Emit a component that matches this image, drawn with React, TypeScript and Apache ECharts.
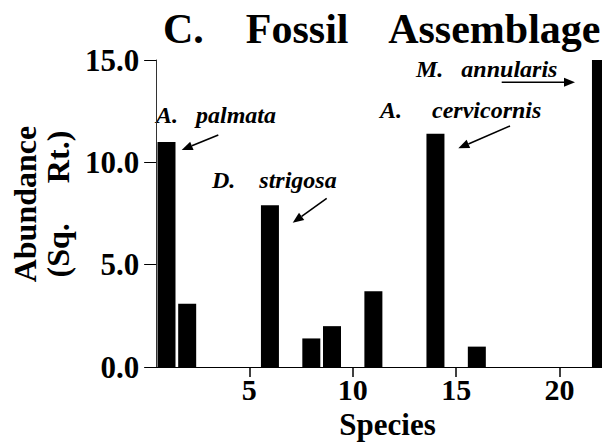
import React, { useEffect, useRef } from "react";
import * as echarts from "echarts";

// ---- data ----
const species = [1, 2, 6, 8, 9, 11, 14, 16, 22];
const abundance = [11.0, 3.1, 7.9, 1.4, 2.0, 3.7, 11.4, 1.0, 15.0];
const xTickValues = [5, 10, 15, 20];
const yTickValues = [0, 5, 10, 15];
const annotationTexts = ["A.   palmata", "D.    strigosa", "A.     cervicornis", "M.   annularis"];

// ---- layout (pixels) ----
const annotationAnchors = [
  [156, 114.7],
  [212, 180.3],
  [380, 109.7],
  [416, 69.3],
];
const arrowSegments = [
  [218.3, 135, 181.7, 150],
  [326.7, 198.3, 292.7, 222.7],
  [510, 126, 458.3, 148.3],
  [501.7, 82.3, 575, 82.3],
];

const SERIF = "Liberation Serif";

function arrowGraphics(seg: number[]) {
  const [x1, y1, x2, y2] = seg;
  const a = Math.atan2(y2 - y1, x2 - x1);
  const L = 11;
  const W = 4.5;
  const bx = x2 - L * Math.cos(a);
  const by = y2 - L * Math.sin(a);
  const px = -Math.sin(a);
  const py = Math.cos(a);
  return [
    {
      type: "line",
      shape: { x1, y1, x2: bx, y2: by },
      style: { stroke: "#000", lineWidth: 1.6 },
      silent: true,
    },
    {
      type: "polygon",
      shape: {
        points: [
          [x2, y2],
          [bx + W * px, by + W * py],
          [bx - W * px, by - W * py],
        ],
      },
      style: { fill: "#000" },
      silent: true,
    },
  ];
}

export default function App() {
  const ref = useRef<HTMLDivElement>(null);

  useEffect(() => {
    if (!ref.current) return;
    const chart = echarts.init(ref.current, null, { renderer: "svg" });

    const graphics: any[] = [];
    annotationTexts.forEach((t, i) => {
      graphics.push({
        type: "text",
        x: annotationAnchors[i][0],
        y: annotationAnchors[i][1],
        style: {
          text: t,
          fill: "#000",
          fontFamily: SERIF,
          fontStyle: "italic",
          fontWeight: "bold",
          fontSize: 24,
          textAlign: "left",
          textVerticalAlign: "middle",
        },
        silent: true,
      });
    });
    arrowSegments.forEach((s) => graphics.push(...arrowGraphics(s)));

    chart.setOption({
      animation: false,
      backgroundColor: "#fff",
      textStyle: { fontFamily: SERIF },
      title: {
        text: "C.    Fossil    Assemblage",
        left: 163,
        top: 8,
        padding: 0,
        textStyle: {
          fontFamily: SERIF,
          fontWeight: "bold",
          fontSize: 42,
          color: "#000",
        },
      },
      grid: { left: 147, right: 0, top: 60, bottom: 62, containLabel: false },
      xAxis: {
        type: "value",
        min: 0.5,
        max: 22.05,
        name: "Species",
        nameLocation: "middle",
        nameGap: 32,
        nameTextStyle: {
          fontFamily: SERIF,
          fontWeight: "bold",
          fontSize: 31,
          color: "#000",
          padding: [0, 0, 0, 17],
        },
        axisLine: { show: true, lineStyle: { color: "#000", width: 1.2 } },
        axisTick: {
          show: true,
          length: 10,
          lineStyle: { color: "#000", width: 1.5 },
          customValues: xTickValues,
        },
        axisLabel: {
          customValues: xTickValues,
          margin: 7,
          fontFamily: SERIF,
          fontWeight: "bold",
          fontSize: 30,
          color: "#000",
          formatter: (v: number) => (xTickValues.includes(v) ? String(v) : ""),
        },
        splitLine: { show: false },
      },
      yAxis: {
        type: "value",
        min: yTickValues[0],
        max: yTickValues[yTickValues.length - 1],
        interval: 5,
        name: "Abundance\n(Sq.     Rt.)",
        nameLocation: "middle",
        nameRotate: 90,
        nameGap: 75,
        nameTextStyle: {
          fontFamily: SERIF,
          fontWeight: "bold",
          fontSize: 32,
          lineHeight: 33,
          color: "#000",
          padding: [0, 0, 0, 19],
        },
        axisLine: { show: true, lineStyle: { color: "#333", width: 1 } },
        axisTick: { show: true, length: 12, lineStyle: { color: "#000", width: 1 } },
        axisLabel: {
          margin: 17,
          fontFamily: SERIF,
          fontWeight: "bold",
          fontSize: 31,
          color: "#000",
          formatter: (v: number) => v.toFixed(1),
        },
        splitLine: { show: false },
      },
      series: [
        {
          type: "bar",
          data: species.map((s, i) => [s, abundance[i]]),
          barWidth: 18,
          itemStyle: { color: "#000" },
          clip: false,
        },
      ],
      graphic: graphics,
    });

    return () => chart.dispose();
  }, []);

  return (
    <div
      ref={ref}
      style={{ position: "absolute", left: 0, top: 0, width: 602, height: 445 }}
    />
  );
}
